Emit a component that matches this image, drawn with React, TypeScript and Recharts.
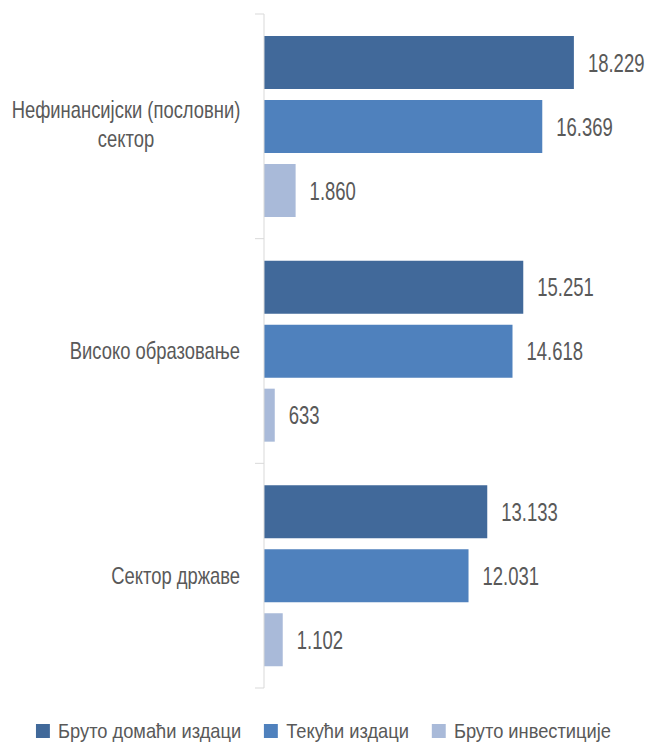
import { BarChart, Bar, XAxis, YAxis, LabelList, Legend } from 'recharts';

const categories = ['Нефинансијски (пословни)\nсектор', 'Високо образовање', 'Сектор државе'];
const grossDomestic = [18229, 15251, 13133];
const currentExp = [16369, 14618, 12031];
const grossInvest = [1860, 633, 1102];

const SERIES = [
    { key: 'gross', name: 'Бруто домаћи издаци', color: '#41699a', values: grossDomestic },
    { key: 'current', name: 'Текући издаци', color: '#4f81bd', values: currentExp },
    { key: 'invest', name: 'Бруто инвестиције', color: '#a9bad9', values: grossInvest },
];

// no condensed font installed -> squeeze Liberation Sans horizontally
const FONT = '"Liberation Sans", Arial, sans-serif';
const SX_VAL = 0.74;
const SX_CAT = 0.8;
const SX_LEG = 0.87;
const TEXT = '#595959';
const W = 647;
const H = 745;
const AXIS_W = 264;
const MARGIN = { top: 14, right: 43, left: 0, bottom: 0 };
const LEGEND_H = 57;
const AXIS_COLOR = '#d9d9d9';

const chartData = categories.map((name, i) => {
    const row: any = { name };
    SERIES.forEach(s => { row[s.key] = s.values[i]; });
    return row;
});

// thousands with a dot, like the source
const fmt = (v: any) => Math.round(Number(v)).toString().replace(/\B(?=(\d{3})+(?!\d))/g, '.');

const plotH = H - MARGIN.top - MARGIN.bottom - LEGEND_H;
const band = plotH / categories.length;

function SqText({ x, y, anchor = 'start', size, sx, children }: any) {
    return (
        <text
            transform={`translate(${x},${y}) scale(${sx},1)`}
            x={0}
            y={0}
            textAnchor={anchor}
            fill={TEXT}
            fontSize={size}
            fontFamily={FONT}
        >
            {children}
        </text>
    );
}

function CategoryTick(props: any) {
    const { y, payload, index } = props;
    const lines = String(payload.value).split('\n');
    const right = AXIS_W - 24;
    return (
        <g>
            <line x1={AXIS_W - 9} x2={AXIS_W} y1={y - band / 2} y2={y - band / 2} stroke={AXIS_COLOR} />
            {index === categories.length - 1 && (
                <line x1={AXIS_W - 9} x2={AXIS_W} y1={y + band / 2} y2={y + band / 2} stroke={AXIS_COLOR} />
            )}
            {lines.length === 1 ? (
                <SqText x={right} y={y + 8} anchor="end" size={23} sx={SX_CAT}>{lines[0]}</SqText>
            ) : (
                lines.map((l, i) => (
                    <SqText key={i} x={right - 114} y={y - 8 + i * 29} anchor="middle" size={23} sx={SX_CAT}>{l}</SqText>
                ))
            )}
        </g>
    );
}

function ValueLabel(props: any) {
    const { x, y, width, height, value } = props;
    return (
        <SqText x={x + width + 14} y={y + height / 2 + 9} size={25} sx={SX_VAL}>{fmt(value)}</SqText>
    );
}

function LegendContent() {
    return (
        <div style={{ height: LEGEND_H, width: W, paddingTop: 28, boxSizing: 'border-box' }}>
            <div
                style={{
                    display: 'flex',
                    justifyContent: 'center',
                    gap: 23 / SX_LEG,
                    height: 30,
                    lineHeight: '30px',
                    fontFamily: FONT,
                    fontSize: 21,
                    color: TEXT,
                    whiteSpace: 'nowrap',
                    transform: `scaleX(${SX_LEG})`,
                    transformOrigin: 'center',
                }}
            >
                {SERIES.map(s => (
                    <div key={s.key} style={{ display: 'flex', alignItems: 'center' }}>
                        <span style={{ width: 14 / SX_LEG, height: 14, background: s.color, marginRight: 8 / SX_LEG, display: 'inline-block' }} />
                        {s.name}
                    </div>
                ))}
            </div>
        </div>
    );
}

export default function App() {
    return (
        <div style={{ position: 'absolute', left: 0, top: 0, width: W, height: H, background: '#fff' }}>
            <BarChart
                width={W}
                height={H}
                data={chartData}
                layout="vertical"
                margin={MARGIN}
                barSize={53}
                barGap={11}
            >
                <XAxis type="number" domain={[0, 20000]} hide />
                <YAxis
                    type="category"
                    dataKey="name"
                    width={AXIS_W}
                    axisLine={{ stroke: AXIS_COLOR }}
                    tickLine={false}
                    tick={<CategoryTick />}
                    interval={0}
                />
                <Legend
                    verticalAlign="bottom"
                    height={LEGEND_H}
                    width={W}
                    wrapperStyle={{ left: 0, width: W }}
                    content={<LegendContent />}
                />
                {SERIES.map(s => (
                    <Bar key={s.key} dataKey={s.key} name={s.name} fill={s.color} isAnimationActive={false}>
                        <LabelList dataKey={s.key} content={<ValueLabel />} />
                    </Bar>
                ))}
            </BarChart>
        </div>
    );
}
